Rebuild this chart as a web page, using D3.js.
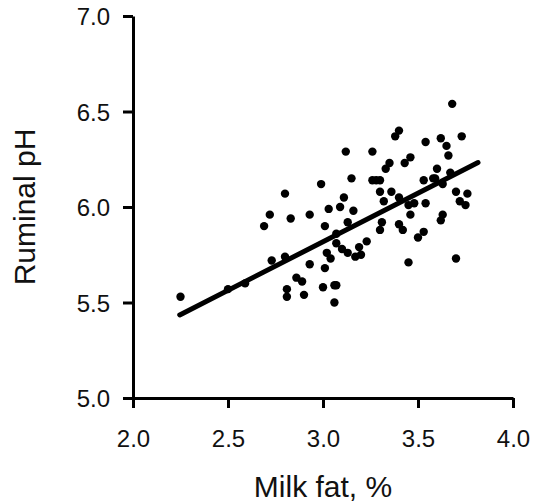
<!DOCTYPE html>
<html>
<head>
<meta charset="utf-8">
<script src="https://cdn.jsdelivr.net/npm/d3@7"></script>
<style>
  body { margin: 0; background: #fff; }
  svg { display: block; font-family: "Liberation Sans", Arial, sans-serif; }
</style>
</head>
<body>
<svg id="chart"></svg>
<script>
// milk fat (%) and ruminal pH
const milkFat = [
  2.25, 2.50, 2.59, 2.69, 2.72, 2.73, 2.80, 2.80, 2.83, 2.81, 2.81, 2.86, 2.89, 2.90, 2.93, 2.93,
  2.99, 3.00, 3.01, 3.01, 3.03, 3.02, 3.04, 3.06, 3.07, 3.06, 3.07, 3.07, 3.09, 3.11, 3.10, 3.12,
  3.13, 3.13, 3.15, 3.16, 3.17, 3.19, 3.20, 3.23, 3.26, 3.26, 3.28, 3.30, 3.30, 3.30, 3.31, 3.32,
  3.33, 3.35, 3.36, 3.38, 3.40, 3.40, 3.40, 3.42, 3.43, 3.46, 3.45, 3.46, 3.48, 3.45, 3.50, 3.53,
  3.53, 3.54, 3.54, 3.60, 3.59, 3.62, 3.65, 3.66, 3.63, 3.67, 3.63, 3.62, 3.68, 3.70, 3.72, 3.75,
  3.76, 3.73, 3.70, 3.58
]
const ruminalPH = [
  5.53, 5.57, 5.60, 5.90, 5.96, 5.72, 6.07, 5.74, 5.94, 5.57, 5.53, 5.63, 5.61, 5.54, 5.96, 5.70,
  6.12, 5.58, 5.90, 5.68, 5.99, 5.76, 5.73, 5.59, 5.59, 5.50, 5.86, 5.81, 6.00, 6.05, 5.78, 6.29,
  5.92, 5.76, 6.15, 5.98, 5.74, 5.79, 5.75, 5.82, 6.14, 6.29, 6.14, 6.14, 6.08, 5.88, 5.92, 6.03,
  6.20, 6.23, 6.08, 6.37, 6.40, 6.05, 5.91, 5.88, 6.23, 6.26, 6.01, 5.96, 6.02, 5.71, 5.84, 5.87,
  6.14, 6.34, 6.02, 6.20, 6.15, 6.36, 6.32, 6.27, 6.12, 6.18, 5.96, 5.93, 6.54, 6.08, 6.03, 6.01,
  6.07, 6.37, 5.73, 6.15
]
// fitted line, end points
const fitX = [2.246, 3.816]
const fitSlope = 0.508
const fitIntercept = 4.294

const xTicks = [2.0, 2.5, 3.0, 3.5, 4.0]
const yTicks = [5.0, 5.5, 6.0, 6.5, 7.0]

const w = 535
const h = 502

const svg = d3.select('#chart')
  .attr('width', w)
  .attr('height', h)

const xScale = d3.scaleLinear().domain([2.0, 4.0]).range([133, 513])
const yScale = d3.scaleLinear().domain([5.0, 7.0]).range([398, 16])

// axes
const xAxis = d3.axisBottom(xScale)
  .tickValues(xTicks)
  .tickFormat(d3.format('.1f'))
  .tickSize(10)
  .tickSizeOuter(0)
  .tickPadding(22)
const yAxis = d3.axisLeft(yScale)
  .tickValues(yTicks)
  .tickFormat(d3.format('.1f'))
  .tickSize(10)
  .tickSizeOuter(0)
  .tickPadding(13)

const gx = svg.append('g')
  .attr('transform', `translate(0, ${yScale(5.0)})`)
  .call(xAxis)
const gy = svg.append('g')
  .attr('transform', `translate(${xScale(2.0)}, 0)`)
  .call(yAxis)

for (const g of [gx, gy]) {
  g.selectAll('.domain').attr('stroke', '#000').attr('stroke-width', 3)
  g.selectAll('.tick line').attr('stroke', '#000').attr('stroke-width', 3)
  g.selectAll('.tick text')
    .attr('fill', '#111')
    .style('font-size', '24px')
    .style('font-family', '"Liberation Sans", Arial, sans-serif')
}
gy.selectAll('.tick text').attr('dy', '0.36em')

// axis titles
svg.append('text')
  .attr('x', 323)
  .attr('y', 497)
  .attr('text-anchor', 'middle')
  .style('font-size', '30px')
  .attr('fill', '#111')
  .text('Milk fat, %')

svg.append('text')
  .attr('transform', `translate(35, 207) rotate(-90)`)
  .attr('text-anchor', 'middle')
  .style('font-size', '30px')
  .attr('fill', '#111')
  .text('Ruminal pH')

// points
svg.append('g')
  .selectAll('circle')
  .data(milkFat.map((x, i) => [x, ruminalPH[i]]))
  .enter().append('circle')
  .attr('cx', d => xScale(d[0]))
  .attr('cy', d => yScale(d[1]))
  .attr('r', 4.2)
  .attr('fill', '#000')

// regression line
const line = d3.line()
  .x(d => xScale(d))
  .y(d => yScale(fitIntercept + fitSlope * d))

svg.append('path')
  .datum(fitX)
  .attr('d', line)
  .attr('fill', 'none')
  .attr('stroke', '#000')
  .attr('stroke-width', 5)
  .attr('stroke-linecap', 'round')
</script>
</body>
</html>
